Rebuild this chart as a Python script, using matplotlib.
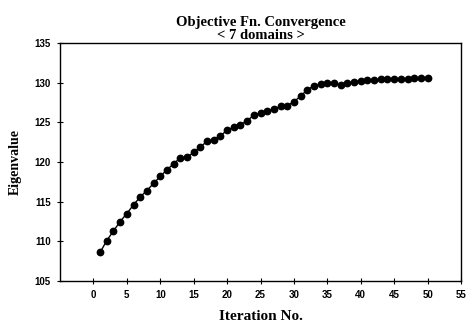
import numpy as np
import matplotlib
matplotlib.use('Agg')
import matplotlib.pyplot as plt

# Objective function convergence, 7 domains
iteration = list(range(1, 51))
eigenvalue = [108.6, 110.1, 111.3, 112.5, 113.5, 114.6, 115.6, 116.4, 117.3, 118.2,
              119.0, 119.8, 120.5, 120.6, 121.2, 121.9, 122.6, 122.8, 123.3, 124.0,
              124.4, 124.7, 125.2, 125.9, 126.2, 126.4, 126.7, 127.0, 127.1, 127.6,
              128.3, 129.1, 129.6, 129.8, 130.0, 129.9, 129.7, 129.9, 130.1, 130.25,
              130.3, 130.35, 130.4, 130.4, 130.45, 130.5, 130.5, 130.55, 130.55, 130.6]

xticks = list(range(0, 56, 5))
yticks = list(range(105, 136, 5))

fig = plt.figure(figsize=(4.7, 3.23), dpi=100)
ax = fig.add_axes([60/470, 1 - 281/323, 401/470, 238/323])

ax.plot(iteration, eigenvalue, '-', color='black', lw=1.0, marker='o', ms=4.6, mfc='black', mec='black')

ax.set_xlim(-5, 55)
ax.set_ylim(105, 135)
ax.set_xticks(xticks)
ax.set_yticks(yticks)

tick_font = dict(family='Liberation Sans', weight='bold', size=7)
ax.set_xticklabels([str(t) for t in xticks], **tick_font)
ax.set_yticklabels([str(t) for t in yticks], **tick_font)
ax.tick_params(axis='both', direction='inout', length=5, width=0.8, pad=4)

for s in ax.spines.values():
    s.set_linewidth(1.0)

ax.set_title('Objective Fn. Convergence\n< 7 domains >', family='Liberation Serif',
             weight='bold', size=10.5, linespacing=0.95, pad=3)
ax.set_xlabel('Iteration No.', family='Liberation Serif', weight='bold', size=11, labelpad=7)
ax.set_ylabel('Eigenvalue', family='Liberation Serif', weight='bold', size=10, labelpad=9)

plt.savefig('out.png', dpi=100)
